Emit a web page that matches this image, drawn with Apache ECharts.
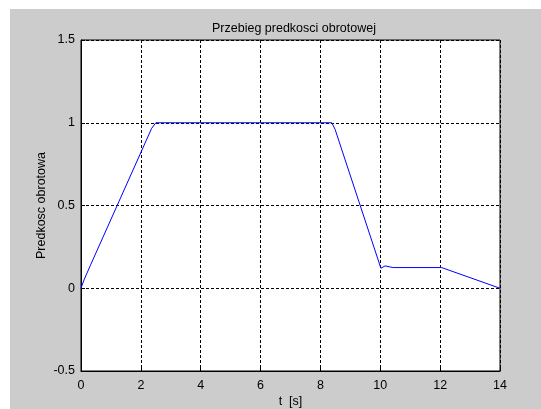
<!DOCTYPE html>
<html>
<head>
<meta charset="utf-8">
<script src="https://cdn.jsdelivr.net/npm/echarts@6/dist/echarts.min.js"></script>
<style>
html,body{margin:0;padding:0;background:#fff;}
#c{width:541px;height:409px;}
</style>
</head>
<body>
<div id="c"></div>
<script>
var titleText = 'Przebieg predkosci obrotowej';
var xName = 't  [s]';
var yName = 'Predkosc obrotowa';
var xTicks = [0, 2, 4, 6, 8, 10, 12, 14];
var yTicks = [-0.5, 0, 0.5, 1, 1.5];
var tValues = [0, 0.1, 0.33, 2.36, 2.5, 8.38, 8.49, 10.02, 10.16, 10.43, 12.05, 14];
var speedValues = [0, 0.05, 0.145, 0.966, 1.0, 1.0, 0.96, 0.121, 0.135, 0.125, 0.125, 0.0];

var data = tValues.map(function (t, i) { return [t, speedValues[i]]; });
var font = 'Liberation Sans, Arial, sans-serif';

var chart = echarts.init(document.getElementById('c'), null, {renderer: 'canvas'});
chart.setOption({
  animation: false,
  backgroundColor: '#ffffff',
  graphic: [{
    type: 'rect', z: -10, zlevel: 0,
    shape: {x: 10, y: 9, width: 531, height: 400},
    style: {fill: '#cccccc'}, silent: true
  }],
  title: {
    text: titleText, left: 289, top: 17, textAlign: 'center',
    textStyle: {fontFamily: font, fontSize: 12.5, fontWeight: 'normal', color: '#000'}
  },
  grid: {
    left: 81, right: 41, top: 40, bottom: 38,
    outerBoundsMode: 'none', containLabel: false,
    show: true, backgroundColor: '#ffffff', borderColor: '#000', borderWidth: 1
  },
  xAxis: {
    type: 'value', min: xTicks[0], max: xTicks[xTicks.length - 1], interval: 2,
    name: xName, nameLocation: 'middle', nameGap: 24, nameMoveOverlap: false,
    nameTextStyle: {fontFamily: font, fontSize: 12.5, color: '#000'},
    axisLine: {show: true, onZero: false, lineStyle: {color: '#000', width: 1}},
    axisTick: {show: true, inside: true, length: 4, lineStyle: {color: '#000'}},
    axisLabel: {fontFamily: font, fontSize: 12.5, color: '#000', margin: 8},
    splitLine: {show: true, lineStyle: {color: '#000', type: [3, 2], width: 1}}
  },
  yAxis: {
    type: 'value', min: yTicks[0], max: yTicks[yTicks.length - 1], interval: 0.5,
    name: yName, nameLocation: 'middle', nameGap: 33, nameRotate: 90, nameMoveOverlap: false,
    nameTextStyle: {fontFamily: font, fontSize: 12.5, color: '#000'},
    axisLine: {show: true, onZero: false, lineStyle: {color: '#000', width: 1}},
    axisTick: {show: true, inside: true, length: 4, lineStyle: {color: '#000'}},
    axisLabel: {fontFamily: font, fontSize: 12.5, color: '#000', margin: 6},
    splitLine: {show: true, lineStyle: {color: '#000', type: [3, 2], width: 1}}
  },
  series: [{
    type: 'line', data: data, showSymbol: false, symbol: 'none',
    lineStyle: {color: '#0000ff', width: 1}, z: 5
  }]
});
</script>
</body>
</html>
